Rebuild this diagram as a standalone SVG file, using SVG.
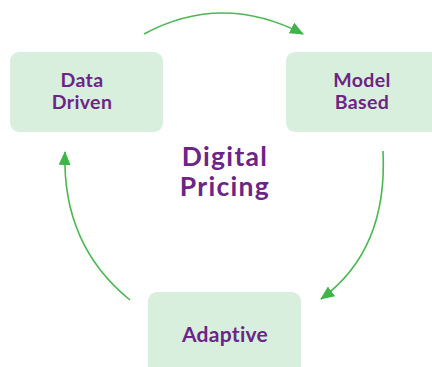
<svg xmlns="http://www.w3.org/2000/svg" width="432" height="367" viewBox="0 0 432 367">
<defs>
<style>
.box{fill:#d9efdd;}
.lbl{font-family:Lato,"Liberation Sans",sans-serif;font-weight:bold;fill:#6c2586;text-anchor:middle;}
.conn{fill:none;stroke:#4cb852;stroke-width:1.6;marker-end:url(#ah);}
</style>
<marker id="ah" markerWidth="14" markerHeight="12" refX="13" refY="6" orient="auto" markerUnits="userSpaceOnUse">
<path d="M0,0 L14,6 L0,12 Z" fill="#3fb449"/>
</marker>
</defs>
<rect width="432" height="367" fill="#ffffff"/>
<g id="connectors">
<path class="conn" d="M144,34 Q222,-8 303,34"/>
<path class="conn" d="M383,151 Q388,250 321,299"/>
<path class="conn" d="M130,300 Q62,245 65,152"/>
</g>
<g id="data-driven">
<rect class="box" x="10" y="52" width="153" height="80" rx="9"/>
<text class="lbl" x="82" y="87" font-size="19.5" letter-spacing="0.4">Data</text>
<text class="lbl" x="82" y="109" font-size="19.5" letter-spacing="0.4">Driven</text>
</g>
<g id="model-based">
<rect class="box" x="286" y="52" width="156" height="80" rx="9"/>
<text class="lbl" x="362" y="87" font-size="19.5" letter-spacing="0.4">Model</text>
<text class="lbl" x="362" y="109" font-size="19.5" letter-spacing="0.4">Based</text>
</g>
<g id="adaptive">
<rect class="box" x="148" y="292" width="153" height="85" rx="9"/>
<text class="lbl" x="225" y="342" font-size="21" letter-spacing="0.3">Adaptive</text>
</g>
<g id="title">
<text class="lbl" x="225" y="166" font-size="26.5" letter-spacing="1.3">Digital</text>
<text class="lbl" x="225" y="196" font-size="26.5" letter-spacing="1.3">Pricing</text>
</g>
</svg>
